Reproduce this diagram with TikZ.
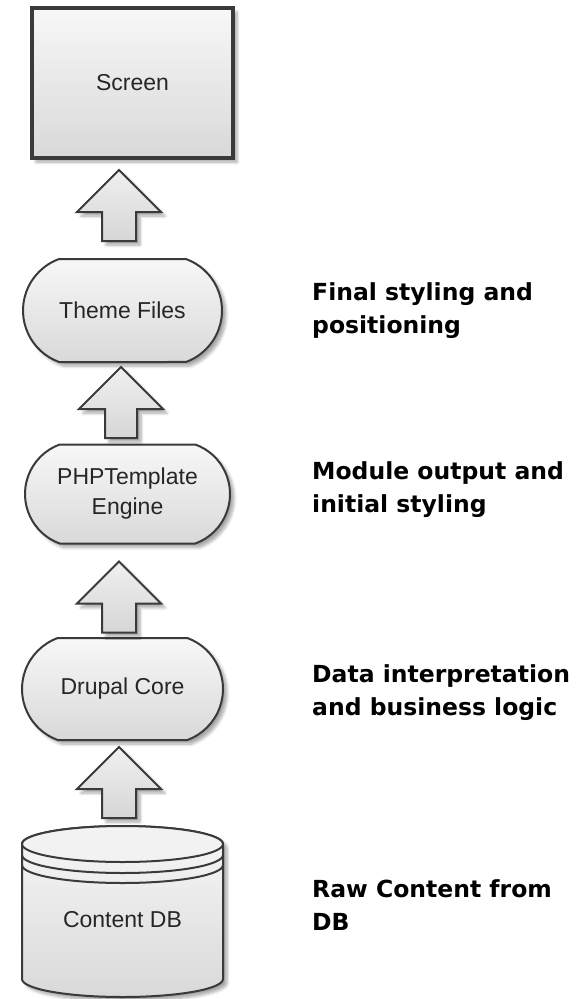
\documentclass[tikz,border=0pt]{standalone}
\usepackage{fontspec}
\setsansfont{Liberation Sans}
\newfontfamily\notefont{DejaVu Sans}
\usepackage{tikz}
\usetikzlibrary{shapes, shapes.misc, calc}
\usetikzlibrary{shadows.blur}
\usepackage{xcolor}

\definecolor{edgegray}{HTML}{3A3A3A}
\definecolor{inkgray}{HTML}{262626}

\tikzset{
	boxshadow/.style={blur shadow={shadow xshift=4pt, shadow yshift=-4pt, shadow blur radius=3pt, shadow blur steps=6, shadow opacity=35}},
	stage/.style={draw=edgegray, line width=2pt, top color=black!3, bottom color=black!15, boxshadow, font=\sffamily\fontsize{23}{30}\selectfont, text=inkgray, inner sep=0pt, outer sep=0pt},
	terminal/.style={stage, rounded rectangle, rounded rectangle arc length=140},
	blockarrow/.style={draw=edgegray, line width=2pt, line join=miter, top color=black!6, bottom color=black!16, boxshadow},
	note/.style={anchor=base west, align=left, inner sep=0pt, font=\notefont\bfseries\fontsize{23.5}{33}\selectfont, text=black},
}

\begin{document}
\begin{tikzpicture}[x=1pt, y=-1pt]
	\useasboundingbox (0,0) rectangle (579,999);
	% screen
	\node[stage, line width=3.5pt, minimum width=201pt, minimum height=150pt] (screen) at (132.5,83) {Screen};
	% stages
	\node[terminal, minimum width=199pt, minimum height=103pt] (theme) at (122.5,310.5) {Theme Files};
	\node[terminal, minimum width=205pt, minimum height=99pt, align=center] (php) at (127.5,494) {PHPTemplate\\Engine};
	\node[terminal, minimum width=201pt, minimum height=102pt] (drupal) at (122.5,689) {Drupal Core};
	% database
	\draw[draw=edgegray, line width=2pt, top color=black!3, bottom color=black!15, boxshadow] (22,844) -- (22,979) arc (180:0:100.5 and 18) -- (223,844) arc (0:-180:100.5 and 18) -- cycle;
	\draw[draw=edgegray, line width=2pt, fill=black!5] (122.5,844) ellipse (100.5 and 18);
	\draw[edgegray, line width=2pt] (22,855) arc (180:0:100.5 and 18);
	\draw[edgegray, line width=2pt] (22,865) arc (180:0:100.5 and 18);
	\node[font=\sffamily\fontsize{23}{30}\selectfont, text=inkgray] (db) at (122.5,920) {Content DB};
	% arrows
	\draw[blockarrow] ($(screen.south)+(-13.5,12)$) -- ++(42,42) -- ++(-25,0) -- ++(0,29) -- ++(-34,0) -- ++(0,-29) -- ++(-25,0) -- cycle;
	\draw[blockarrow] ($(theme.south)+(-1.5,5)$) -- ++(42,42) -- ++(-26,0) -- ++(0,29) -- ++(-32,0) -- ++(0,-29) -- ++(-26,0) -- cycle;
	\draw[blockarrow] ($(php.south)+(-8.5,18)$) -- ++(42,42) -- ++(-25,0) -- ++(0,29) -- ++(-34,0) -- ++(0,-29) -- ++(-25,0) -- cycle;
	\draw[blockarrow] ($(drupal.south)+(-3.5,7)$) -- ++(42,42) -- ++(-25,0) -- ++(0,29) -- ++(-34,0) -- ++(0,-29) -- ++(-25,0) -- cycle;
	% notes
	\node[note] (finalnote) at (312,333) {Final styling and\\positioning};
	\node[note] (modulenote) at (312,512) {Module output and\\initial styling};
	\node[note] (datanote) at (312,715) {Data interpretation\\and business logic};
	\node[note] (rawnote) at (312,930) {Raw Content from\\DB};
\end{tikzpicture}
\end{document}
